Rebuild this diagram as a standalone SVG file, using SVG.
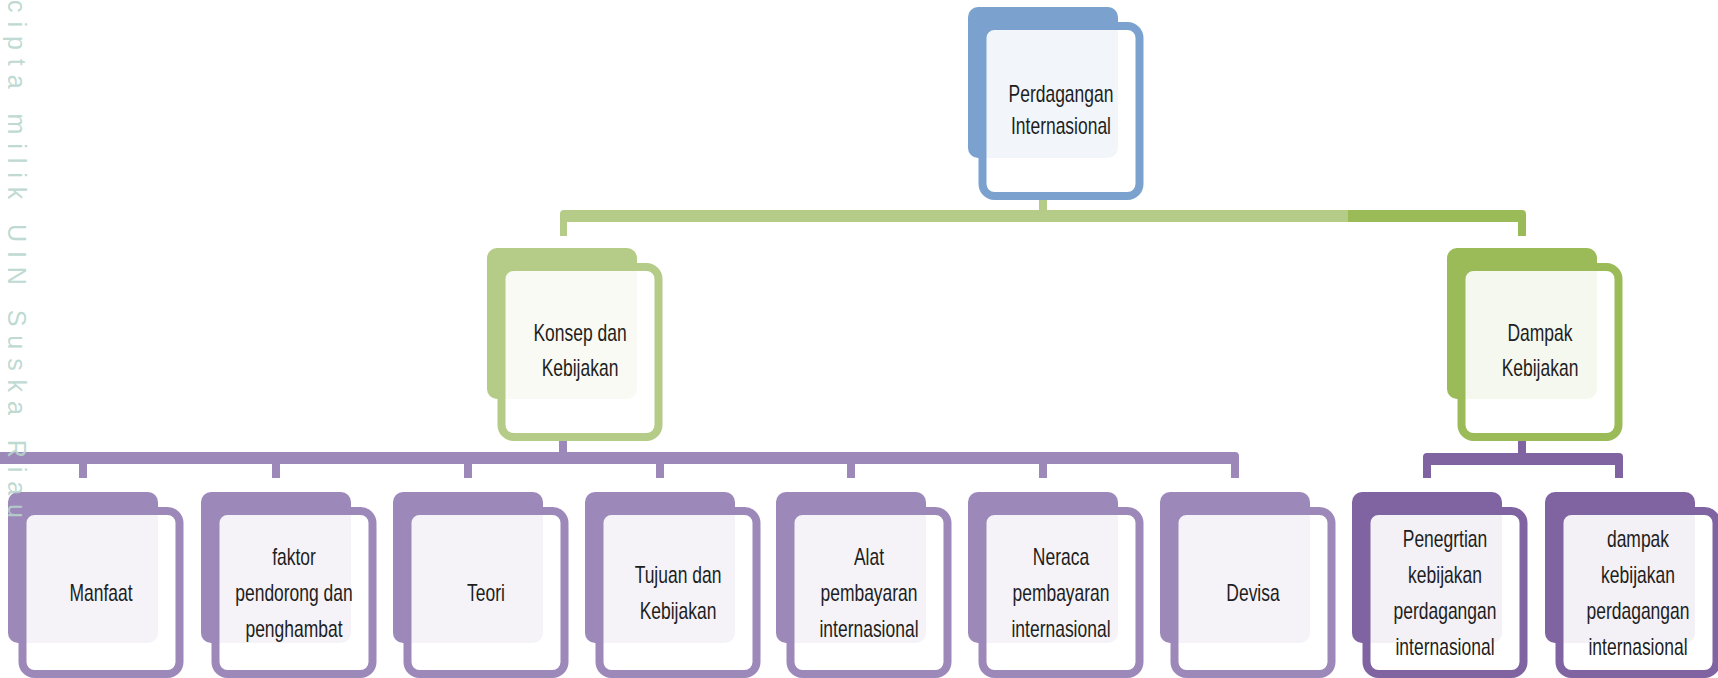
<svg xmlns="http://www.w3.org/2000/svg" width="1718" height="678" viewBox="0 0 1718 678">
<style>
.bg{fill:#ffffff}
.bk{stroke:none}
.fr{fill:#ffffff;fill-opacity:.9;stroke-width:8}
.blue{fill:#7ba1cf}
.blue-s{stroke:#7ba1cf}
.lg{fill:#b4cc87}
.lg-s{stroke:#b4cc87}
.dg{fill:#9bbb59}
.dg-s{stroke:#9bbb59}
.lp{fill:#9d88ba}
.lp-s{stroke:#9d88ba}
.dp{fill:#8064a2}
.dp-s{stroke:#8064a2}
.t{font-family:"Liberation Sans",Arial,sans-serif;font-size:23px;fill:#1e1e1e;text-anchor:middle}
.wm{font-family:"Liberation Sans",Arial,sans-serif;font-size:25px;fill:#b5d5cc;fill-opacity:.9}
</style>
<rect class="bg" x="0" y="0" width="1718" height="678"/>

<g id="connectors">
  <rect class="lg" x="1039" y="198" width="8" height="14"/>
  <path class="lg" d="M560,236 V214 Q560,210 564,210 H1348 V222 H567 V236 Z"/>
  <path class="dg" d="M1348,210 H1522 Q1526,210 1526,214 V236 H1518 V222 H1348 Z"/>
  <rect class="lp" x="559" y="439" width="8" height="15"/>
  <path class="lp" d="M-20,452 H1235 Q1239,452 1239,456 V478 H1231 V464 H-20 Z"/>
  <rect class="lp" x="79" y="463" width="8" height="15"/>
  <rect class="lp" x="272" y="463" width="8" height="15"/>
  <rect class="lp" x="464" y="463" width="8" height="15"/>
  <rect class="lp" x="656" y="463" width="8" height="15"/>
  <rect class="lp" x="847" y="463" width="8" height="15"/>
  <rect class="lp" x="1039" y="463" width="8" height="15"/>
  <rect class="dp" x="1518" y="439" width="8" height="16"/>
  <path class="dp" d="M1423,478 V457 Q1423,453 1427,453 H1619 Q1623,453 1623,457 V478 H1615 V465 H1431 V478 Z"/>
</g>

<g id="n-perdagangan">
  <rect class="bk blue" x="968" y="7" width="150" height="151" rx="10"/>
  <rect class="fr blue-s" x="982.5" y="26" width="157" height="170" rx="12"/>
  <text class="t" transform="translate(1061 0) scale(.76 1)"><tspan x="0" y="102">Perdagangan</tspan><tspan x="0" y="134">Internasional</tspan></text>
</g>

<g id="n-konsep">
  <rect class="bk lg" x="487" y="248" width="150" height="151" rx="10"/>
  <rect class="fr lg-s" x="501.5" y="267" width="157" height="170" rx="12"/>
  <text class="t" transform="translate(580 0) scale(.76 1)"><tspan x="0" y="341.5">Konsep dan</tspan><tspan x="0" y="376.5">Kebijakan</tspan></text>
</g>

<g id="n-dampak">
  <rect class="bk dg" x="1447" y="248" width="150" height="151" rx="10"/>
  <rect class="fr dg-s" x="1461.5" y="267" width="157" height="170" rx="12"/>
  <text class="t" transform="translate(1540 0) scale(.76 1)"><tspan x="0" y="341.5">Dampak</tspan><tspan x="0" y="376.5">Kebijakan</tspan></text>
</g>

<g id="n-manfaat">
  <rect class="bk lp" x="8" y="492" width="150" height="151" rx="10"/>
  <rect class="fr lp-s" x="22.5" y="511" width="157" height="163" rx="12"/>
  <text class="t" transform="translate(101 0) scale(.76 1)"><tspan x="0" y="601">Manfaat</tspan></text>
</g>

<g id="n-faktor">
  <rect class="bk lp" x="201" y="492" width="150" height="151" rx="10"/>
  <rect class="fr lp-s" x="215.5" y="511" width="157" height="163" rx="12"/>
  <text class="t" transform="translate(294 0) scale(.76 1)"><tspan x="0" y="565">faktor</tspan><tspan x="0" y="601">pendorong  dan</tspan><tspan x="0" y="637">penghambat</tspan></text>
</g>

<g id="n-teori">
  <rect class="bk lp" x="393" y="492" width="150" height="151" rx="10"/>
  <rect class="fr lp-s" x="407.5" y="511" width="157" height="163" rx="12"/>
  <text class="t" transform="translate(486 0) scale(.76 1)"><tspan x="0" y="601">Teori</tspan></text>
</g>

<g id="n-tujuan">
  <rect class="bk lp" x="585" y="492" width="150" height="151" rx="10"/>
  <rect class="fr lp-s" x="599.5" y="511" width="157" height="163" rx="12"/>
  <text class="t" transform="translate(678 0) scale(.76 1)"><tspan x="0" y="583">Tujuan dan</tspan><tspan x="0" y="619">Kebijakan</tspan></text>
</g>

<g id="n-alat">
  <rect class="bk lp" x="776" y="492" width="150" height="151" rx="10"/>
  <rect class="fr lp-s" x="790.5" y="511" width="157" height="163" rx="12"/>
  <text class="t" transform="translate(869 0) scale(.76 1)"><tspan x="0" y="565">Alat</tspan><tspan x="0" y="601">pembayaran</tspan><tspan x="0" y="637">internasional</tspan></text>
</g>

<g id="n-neraca">
  <rect class="bk lp" x="968" y="492" width="150" height="151" rx="10"/>
  <rect class="fr lp-s" x="982.5" y="511" width="157" height="163" rx="12"/>
  <text class="t" transform="translate(1061 0) scale(.76 1)"><tspan x="0" y="565">Neraca</tspan><tspan x="0" y="601">pembayaran</tspan><tspan x="0" y="637">internasional</tspan></text>
</g>

<g id="n-devisa">
  <rect class="bk lp" x="1160" y="492" width="150" height="151" rx="10"/>
  <rect class="fr lp-s" x="1174.5" y="511" width="157" height="163" rx="12"/>
  <text class="t" transform="translate(1253 0) scale(.76 1)"><tspan x="0" y="601">Devisa</tspan></text>
</g>

<g id="n-pengertian">
  <rect class="bk dp" x="1352" y="492" width="150" height="151" rx="10"/>
  <rect class="fr dp-s" x="1366.5" y="511" width="157" height="163" rx="12"/>
  <text class="t" transform="translate(1445 0) scale(.76 1)"><tspan x="0" y="547">Penegrtian</tspan><tspan x="0" y="583">kebijakan</tspan><tspan x="0" y="619">perdagangan</tspan><tspan x="0" y="655">internasional</tspan></text>
</g>

<g id="n-dampak-kebijakan">
  <rect class="bk dp" x="1545" y="492" width="150" height="151" rx="10"/>
  <rect class="fr dp-s" x="1559.5" y="511" width="157" height="163" rx="12"/>
  <text class="t" transform="translate(1638 0) scale(.76 1)"><tspan x="0" y="547">dampak</tspan><tspan x="0" y="583">kebijakan</tspan><tspan x="0" y="619">perdagangan</tspan><tspan x="0" y="655">internasional</tspan></text>
</g>

<text class="wm" transform="translate(8 0) rotate(90)" x="0" y="0" textLength="518" lengthAdjust="spacing">cipta milik UIN Suska Riau</text>
</svg>
